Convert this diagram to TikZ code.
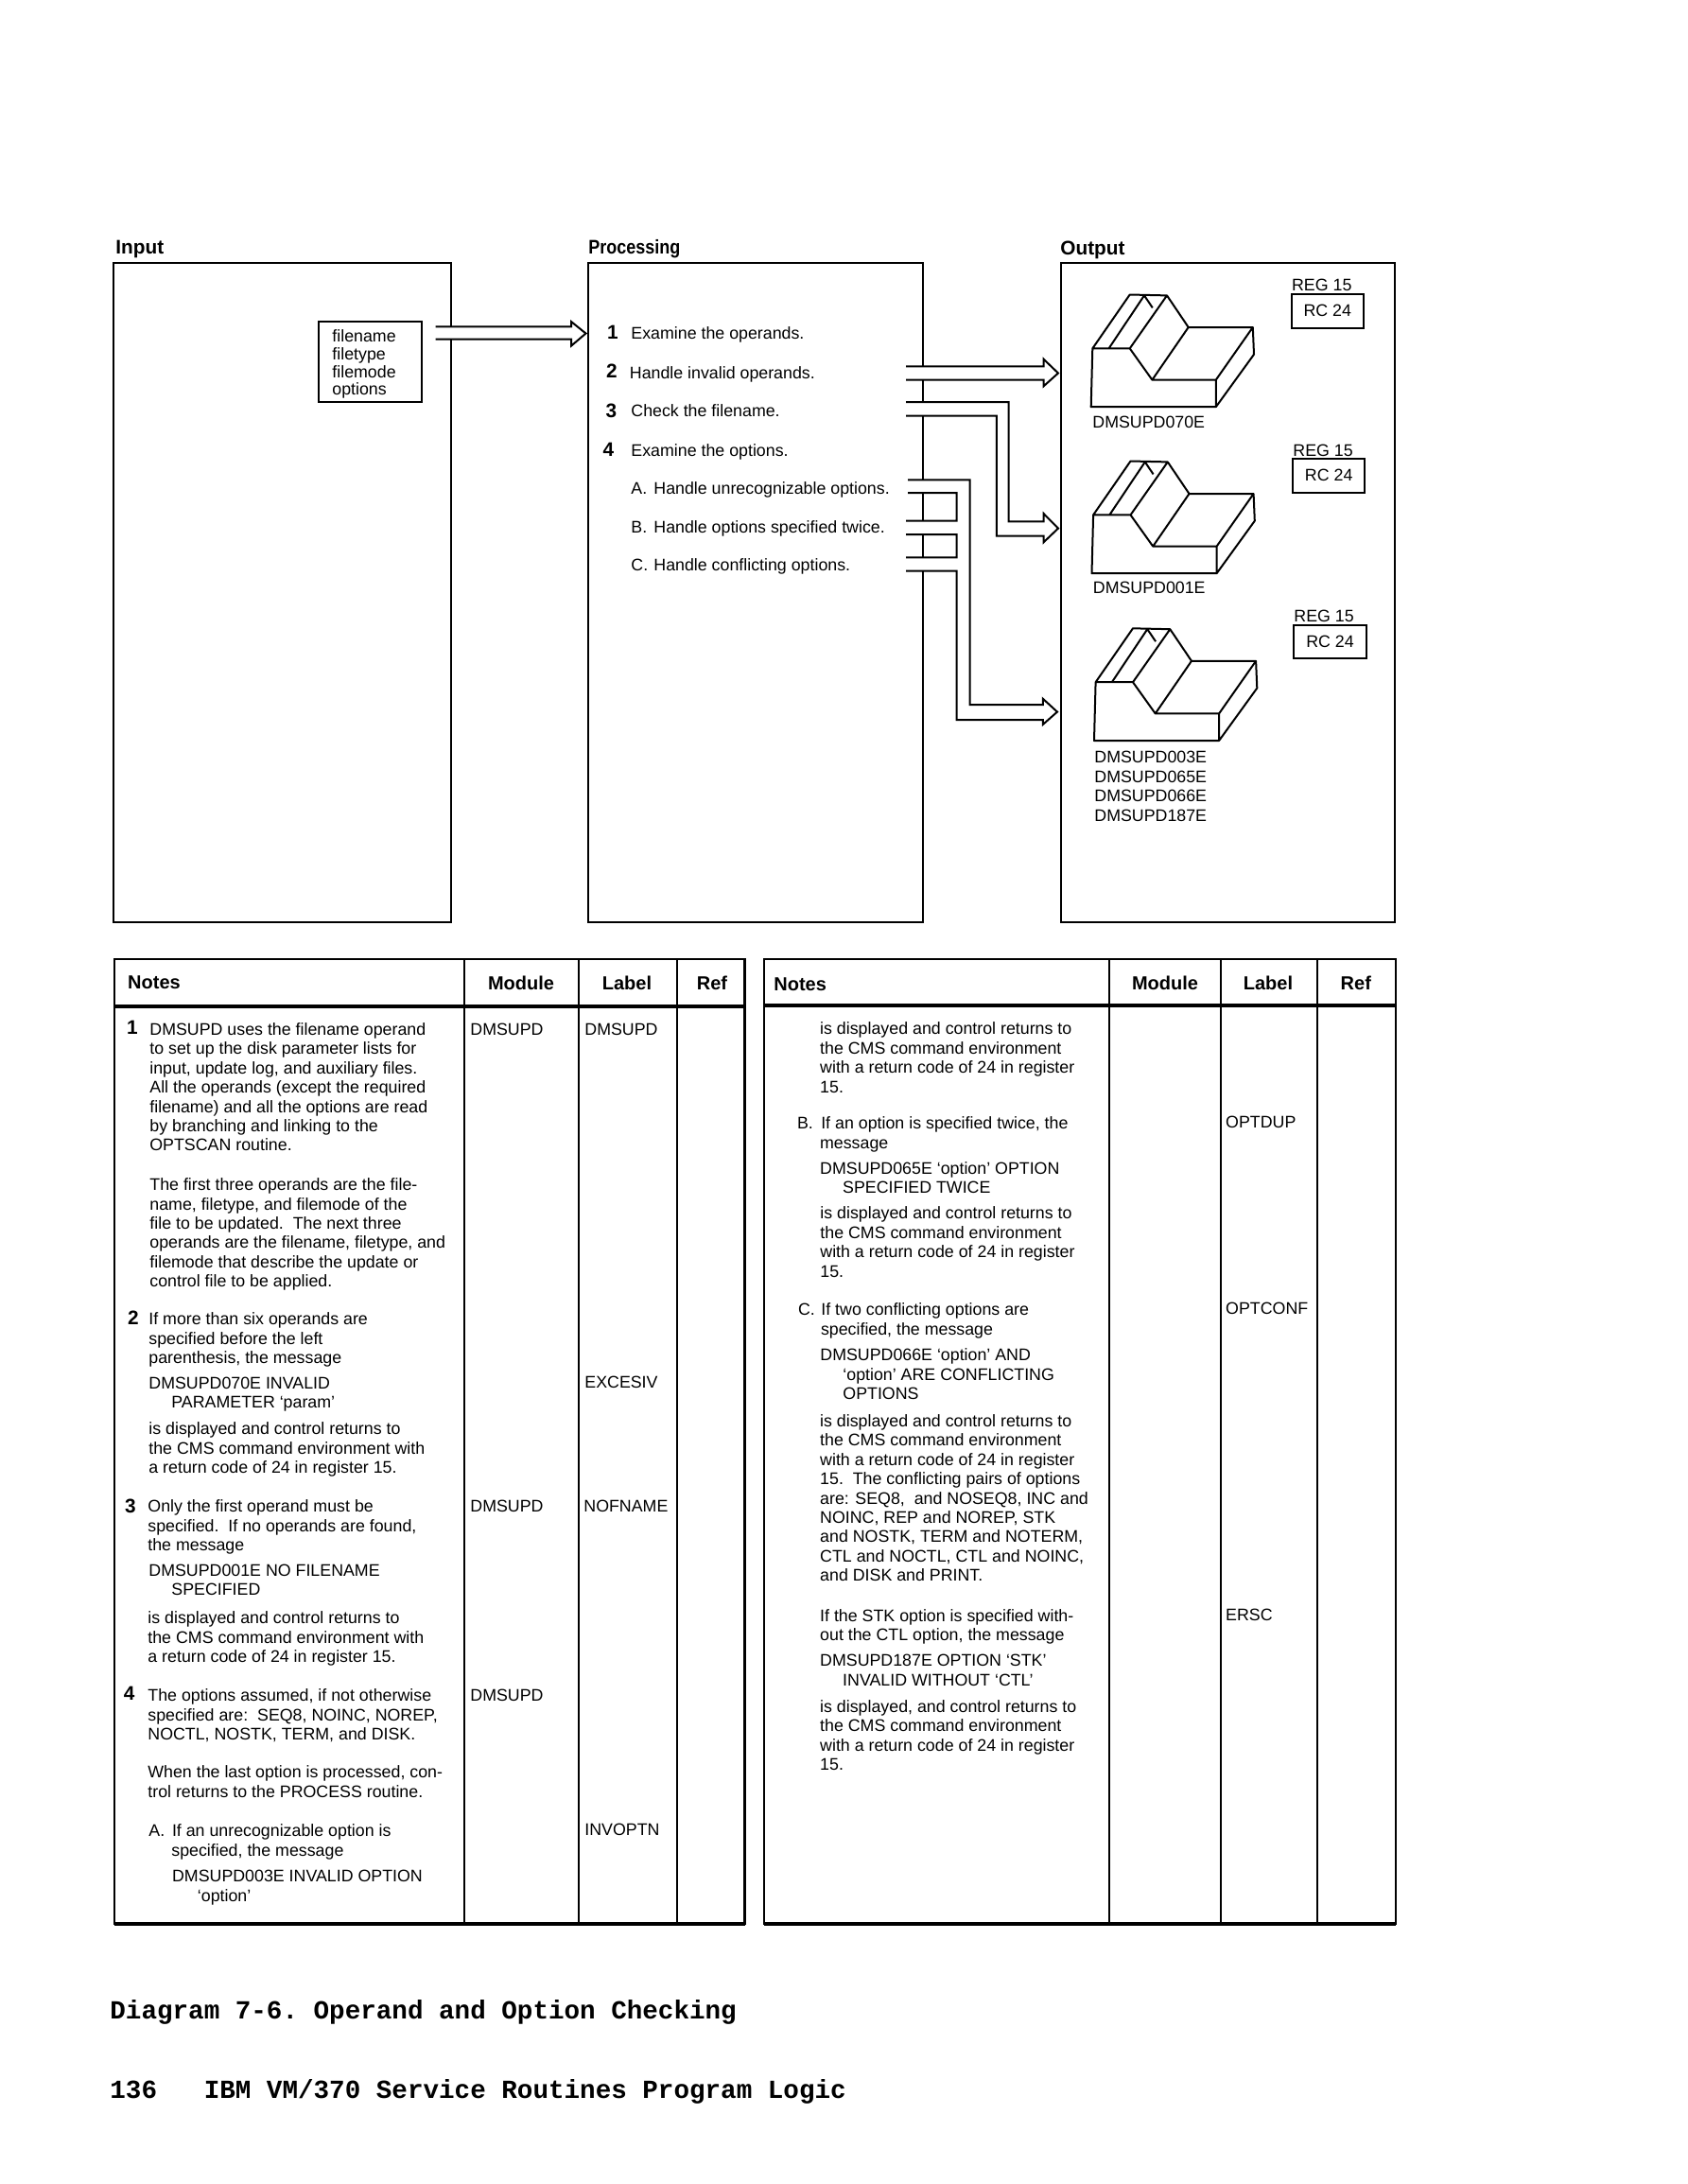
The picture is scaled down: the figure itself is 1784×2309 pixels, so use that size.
\documentclass[tikz,border=0pt]{standalone}
\usepackage{fontspec}
\setmainfont{Liberation Sans}[Ligatures=NoCommon]
\newfontfamily\footfont{Liberation Mono}[Ligatures=NoCommon]
\newcommand{\tx}[4][]{\node[txt,#1] (#2) at (#3) {\rule{0pt}{7pt}#4};}
\newcommand{\ind}{\hspace*{12pt}}
\tikzset{
  x=0.5pt,y=-0.5pt,
  txt/.style={anchor=north west,inner sep=0pt,yshift=3.75pt,align=left,font=\fontsize{8.9}{10.2}\selectfont},
  hdr/.style={anchor=west,inner sep=0pt,font=\fontsize{10.4}{12}\selectfont\bfseries},
  colhdr/.style={anchor=center,inner sep=0pt,font=\fontsize{10}{12}\selectfont\bfseries},
  num/.style={anchor=center,inner sep=0pt,font=\fontsize{10.4}{12}\selectfont\bfseries},
  panel/.style={draw,line width=1pt,inner sep=0pt,outer sep=0pt,rectangle},
  tbl/.style={draw,line width=1.4pt,inner sep=0pt,outer sep=0pt,rectangle},
  rulev/.style={line width=1pt},
  ruleh/.style={line width=1.8pt},
  arrowline/.style={line width=1pt,line join=miter},
  foot/.style={anchor=west,inner sep=0pt,font=\footfont\bfseries\fontsize{13.8}{16}\selectfont\frenchspacing},
  disp/.pic={
    \draw[line width=1pt,line join=round]
      (0,0) -- (1.6,-61.8) -- (41,-118.7) -- (80.3,-117.8) -- (103,-84.2) -- (171.1,-84.2) -- (172.3,-55.5) -- (132.1,0) -- cycle
      (1.6,-61.8) -- (41,-61.8) -- (64.7,-28.6) -- (132.1,-28.6) -- (171.1,-84.2)
      (132.1,0) -- (132.1,-28.6)
      (41,-61.8) -- (80.3,-117.8)
      (64.7,-28.6) -- (103,-84.2)
      (18.8,-61.8) -- (56.3,-117.8) -- (65.1,-104.8);
  }
}
\begin{document}
\begin{tikzpicture}
\useasboundingbox (0,0) rectangle (1784,2309);
% panels
\node[panel,minimum width=178.3pt,minimum height=348.75pt] (input) at (298.3,626.25) {};
\node[panel,minimum width=176.75pt,minimum height=348.75pt] (proc) at (798.75,626.25) {};
\node[panel,minimum width=176.5pt,minimum height=348.75pt] (output) at (1298.5,626.25) {};
\node[hdr] (hinput) at (122,263) {Input};
\node[hdr] (hproc) at (622,263) {\scalebox{0.865}[1]{Processing}};
\node[hdr] (houtput) at (1121,264) {Output};
% input box
\node[panel,minimum width=54.5pt,minimum height=42.3pt] (filebox) at (391.5,382.3) {};
\tx[font=\fontsize{8.9}{9.3}\selectfont]{filetext}{351,355}{filename\\filetype\\filemode\\options}
% arrow input -> processing
\coordinate (a0a) at (460.5,345.4); \coordinate (a0b) at (604,345.4); \coordinate (a0c) at (604,340);
\coordinate (a0t) at (619.5,352.5); \coordinate (a0d) at (604,365.7); \coordinate (a0e) at (604,358.6); \coordinate (a0f) at (460.5,358.6);
\path[fill=white,draw=black,arrowline] (a0a) -- (a0b) -- (a0c) -- (a0t) -- (a0d) -- (a0e) -- (a0f);
% arrow to display 1
\coordinate (a1a) at (958,387.3); \coordinate (a1b) at (1103.6,387.3); \coordinate (a1c) at (1103.6,379.7);
\coordinate (a1t) at (1119,394.5); \coordinate (a1d) at (1103.6,408.3); \coordinate (a1e) at (1103.6,401.6); \coordinate (a1f) at (958,401.6);
\path[fill=white,draw=black,arrowline] (a1a) -- (a1b) -- (a1c) -- (a1t) -- (a1d) -- (a1e) -- (a1f);
% arrow to display 2
\coordinate (a2a) at (958,425.2); \coordinate (a2b) at (1066.5,425.2); \coordinate (a2c) at (1066.5,551.4); \coordinate (a2d) at (1103.6,551.4);
\coordinate (a2e) at (1103.6,543); \coordinate (a2t) at (1119,558.6); \coordinate (a2f) at (1103.6,573.3); \coordinate (a2g) at (1103.6,566.6);
\coordinate (a2h) at (1053.8,566.6); \coordinate (a2i) at (1053.8,439.5); \coordinate (a2j) at (958,439.5);
\path[fill=white,draw=black,arrowline] (a2a) -- (a2b) -- (a2c) -- (a2d) -- (a2e) -- (a2t) -- (a2f) -- (a2g) -- (a2h) -- (a2i) -- (a2j);
% arrow to display 3 with the option branches
\coordinate (a3a) at (960,507.3); \coordinate (a3b) at (1025.5,507.3); \coordinate (a3c) at (1025.5,745); \coordinate (a3d) at (1102.8,745);
\coordinate (a3e) at (1102.8,738.7); \coordinate (a3t) at (1118,752.6); \coordinate (a3f) at (1102.8,766); \coordinate (a3g) at (1102.8,761);
\coordinate (a3h) at (1011.7,761); \coordinate (a3i) at (1011.7,603.6); \coordinate (a3j) at (958,603.6);
\coordinate (b2a) at (958,589.3); \coordinate (b2b) at (1011.7,589.3); \coordinate (b2c) at (1011.7,565); \coordinate (b2d) at (958,565);
\coordinate (b1a) at (958,550.6); \coordinate (b1b) at (1011.7,550.6); \coordinate (b1c) at (1011.7,521); \coordinate (b1d) at (960,521);
\fill[white] (a3a) -- (a3b) -- (a3c) -- (a3d) -- (a3e) -- (a3t) -- (a3f) -- (a3g) -- (a3h) -- (a3i) -- (a3j)
  -- (b2a) -- (b2b) -- (b2c) -- (b2d) -- (b1a) -- (b1b) -- (b1c) -- (b1d) -- cycle;
\draw[arrowline] (a3a) -- (a3b) -- (a3c) -- (a3d) -- (a3e) -- (a3t) -- (a3f) -- (a3g) -- (a3h) -- (a3i) -- (a3j)
  (b2a) -- (b2b) -- (b2c) -- (b2d) (b1a) -- (b1b) -- (b1c) -- (b1d);
% processing text
\node[num] (p1) at (648,351) {1};
\tx{pt1}{667,352}{Examine the operands.}
\node[num] (p2) at (647,392) {2};
\tx{pt2}{665.5,393.6}{Handle invalid operands.}
\node[num] (p3) at (646.5,434) {3};
\tx{pt3}{667,434}{Check the filename.}
\node[num] (p4) at (643.5,475) {4};
\tx{pt4}{667,476}{Examine the options.}
\tx{pta}{667,516}{\makebox[12pt][l]{A.}Handle unrecognizable options.}
\tx{ptb}{667,557}{\makebox[12pt][l]{B.}Handle options specified twice.}
\tx{ptc}{667,597}{\makebox[12pt][l]{C.}Handle conflicting options.}
% output
\pic (d1) at (1153.7,430.2) {disp};
\pic (d2) at (1154.5,606.2) {disp};
\pic (d3) at (1157,783) {disp};
\tx{m1}{1155,446}{DMSUPD070E}
\tx{m2}{1155.5,621}{DMSUPD001E}
\tx{m3}{1157,800}{DMSUPD003E\\DMSUPD065E\\DMSUPD066E\\DMSUPD187E}
\tx{reg1}{1365.7,301}{REG 15}
\tx{reg2}{1367,475.7}{REG 15}
\tx{reg3}{1368,650.4}{REG 15}
\node[panel,font=\fontsize{8.9}{10.2}\selectfont,minimum width=37.75pt,minimum height=18.15pt] (rc1) at (1403.75,328.85) {RC 24};
\node[panel,font=\fontsize{8.9}{10.2}\selectfont,minimum width=38.2pt,minimum height=17.85pt] (rc2) at (1405.2,502.85) {RC 24};
\node[panel,font=\fontsize{8.9}{10.2}\selectfont,minimum width=38.1pt,minimum height=17.5pt] (rc3) at (1406.5,678.5) {RC 24};
% left table
\node[tbl,minimum width=333.25pt,minimum height=510pt] (ltab) at (454.25,1524) {};
\draw[ruleh] (ltab.west |- 0,1064) -- (ltab.east |- 0,1064);
\draw[ruleh] (ltab.south west) -- (ltab.south east);
\draw[rulev] (490.6,1014) -- (490.6,2034) (612,1014) -- (612,2034) (716,1014) -- (716,2034);
\node[hdr,font=\fontsize{10}{12}\selectfont\bfseries] (lnotes) at (134.8,1039) {Notes};
\node[colhdr] (lmod) at (551,1039) {Module};
\node[colhdr] (llab) at (663,1039) {Label};
\node[colhdr] (lref) at (753,1039) {Ref};
\node[num] (n1) at (140,1086) {1};
\tx{l1}{158,1087.5}{DMSUPD uses the filename operand\\to set up the disk parameter lists for\\input, update log, and auxiliary files.\\All the operands (except the required\\filename) and all the options are read\\by branching and linking to the\\OPTSCAN routine.}
\tx{l2}{158,1251.8}{The first three operands are the file-\\name, filetype, and filemode of the\\file to be updated.\ \ The next three\\operands are the filename, filetype, and\\filemode that describe the update or\\control file to be applied.}
\node[num] (n2) at (141,1393) {2};
\tx{l3}{157,1394}{If more than six operands are\\specified before the left\\parenthesis, the message}
\tx{l4}{157,1461.4}{DMSUPD070E INVALID\\\ind PARAMETER ‘param’}
\tx{l5}{157,1510}{is displayed and control returns to\\the CMS command environment with\\a return code of 24 in register 15.}
\node[num] (n3) at (138,1592) {3};
\tx{l6}{156,1592}{Only the first operand must be\\specified.\ \ If no operands are found,\\the message}
\tx{l7}{157,1659.4}{DMSUPD001E NO FILENAME\\\ind SPECIFIED}
\tx{l8}{156,1710}{is displayed and control returns to\\the CMS command environment with\\a return code of 24 in register 15.}
\node[num] (n4) at (136.6,1790.4) {4};
\tx{l9}{156,1792}{The options assumed, if not otherwise\\specified are:\ \ SEQ8, NOINC, NOREP,\\NOCTL, NOSTK, TERM, and DISK.}
\tx{l10}{156,1873}{When the last option is processed, con-\\trol returns to the PROCESS routine.}
\tx{l11}{157,1934.7}{\makebox[12.3pt][l]{A.}If an unrecognizable option is\\\ind specified, the message}
\tx{l12}{181.7,1982.8}{DMSUPD003E INVALID OPTION\\\hspace*{13.4pt}‘option’}
\tx{lm1}{497,1088}{DMSUPD}
\tx{lm2}{497,1592}{DMSUPD}
\tx{lm3}{497,1792}{DMSUPD}
\tx{ll1}{618,1087.5}{DMSUPD}
\tx{ll2}{618,1461}{EXCESIV}
\tx{ll3}{617,1591.4}{NOFNAME}
\tx{ll4}{618,1933.7}{INVOPTN}
% right table
\node[tbl,minimum width=334pt,minimum height=510pt] (rtab) at (1142,1524) {};
\draw[ruleh] (rtab.west |- 0,1063) -- (rtab.east |- 0,1063);
\draw[ruleh] (rtab.south west) -- (rtab.south east);
\draw[rulev] (1172.6,1014) -- (1172.6,2034) (1291,1014) -- (1291,2034) (1392.7,1014) -- (1392.7,2034);
\node[hdr,font=\fontsize{10}{12}\selectfont\bfseries] (rnotes) at (818,1040.5) {Notes};
\node[colhdr] (rmod) at (1232,1039) {Module};
\node[colhdr] (rlab) at (1341,1039) {Label};
\node[colhdr] (rref) at (1433.8,1039) {Ref};
\tx{r1}{866.8,1087}{is displayed and control returns to\\the CMS command environment\\with a return code of 24 in register\\15.}
\tx{r2}{842.7,1186.7}{\makebox[12.6pt][l]{B.}If an option is specified twice, the\\\ind message}
\tx{r3}{866.8,1234.5}{DMSUPD065E ‘option’ OPTION\\\ind SPECIFIED TWICE}
\tx{r4}{867,1282}{is displayed and control returns to\\the CMS command environment\\with a return code of 24 in register\\15.}
\tx{r5}{843.6,1383.7}{\makebox[12.2pt][l]{C.}If two conflicting options are\\\ind specified, the message}
\tx{r6}{867,1432}{DMSUPD066E ‘option’ AND\\\ind ‘option’ ARE CONFLICTING\\\ind OPTIONS}
\tx{r7}{866.8,1501.5}{is displayed and control returns to\\the CMS command environment\\with a return code of 24 in register\\15.\ \ The conflicting pairs of options\\are: SEQ8,\ \ and NOSEQ8, INC and\\NOINC, REP and NOREP, STK\\and NOSTK, TERM and NOTERM,\\CTL and NOCTL, CTL and NOINC,\\and DISK and PRINT.}
\tx{r8}{866.8,1707.4}{If the STK option is specified with-\\out the CTL option, the message}
\tx{r9}{866.8,1754.8}{DMSUPD187E OPTION ‘STK’\\\ind INVALID WITHOUT ‘CTL’}
\tx{r10}{866.8,1803.6}{is displayed, and control returns to\\the CMS command environment\\with a return code of 24 in register\\15.}
\tx{rl1}{1295.8,1185.7}{OPTDUP}
\tx{rl2}{1295.8,1383}{OPTCONF}
\tx{rl3}{1295.8,1706.7}{ERSC}
% footer
\node[foot] (cap) at (116,2127) {Diagram 7-6. Operand and Option Checking};
\node[foot] (pg) at (116,2211) {136~~~IBM VM/370 Service Routines Program Logic};
\end{tikzpicture}
\end{document}
